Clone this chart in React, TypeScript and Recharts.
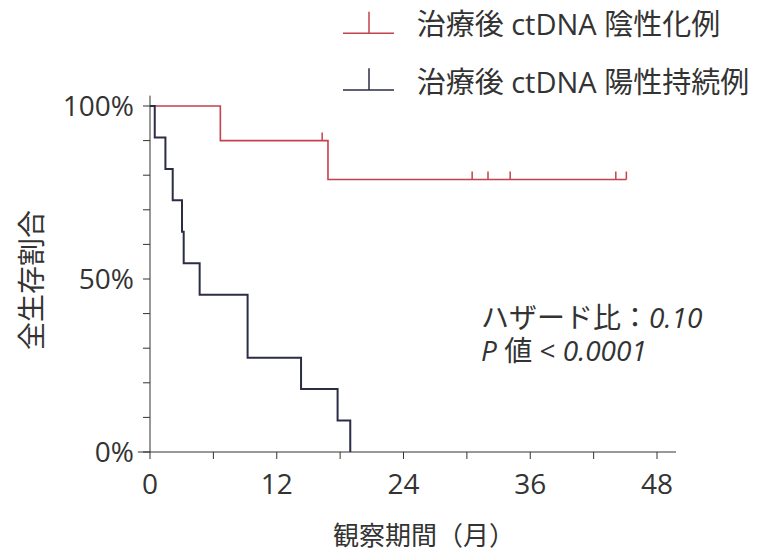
import { ComposedChart, Line, XAxis, YAxis, ReferenceLine } from "recharts";

// 治療後 ctDNA 陰性化例 (n=10)
const negTime = [0, 6.66, 16.3, 16.85, 30.5, 32.0, 34.1, 44.1, 45.1];
const negSurv = [100, 90, 90, 78.75, 78.75, 78.75, 78.75, 78.75, 78.75];
const negCensored = [false, false, true, false, true, true, true, true, true];

// 治療後 ctDNA 陽性持続例 (n=11)
const posTime = [0, 0.45, 1.46, 2.15, 3.03, 3.19, 4.7, 9.24, 14.3, 17.76, 18.96];
const posSurv = [100, 90.91, 81.82, 72.73, 63.64, 54.55, 45.45, 27.27, 18.18, 9.09, 0];

const xTicks = [0, 6, 12, 18, 24, 30, 36, 42, 48];
const xLabels = [0, 12, 24, 36, 48];
const yTicks = [0, 10, 20, 30, 40, 50, 60, 70, 80, 90, 100];
const yLabels = [0, 50, 100];

const RED = "#c4424e";
const NAVY = "#2b2d45";
const INK = "#333333";
const FONT = "'Open Sans', 'Noto Sans CJK JP', sans-serif";

const negData = negTime.map((t, i) => ({ t, s: negSurv[i], c: negCensored[i] }));
const posData = posTime.map((t, i) => ({ t, s: posSurv[i], c: false }));

const censorDot = (color: string) => (props: any) => {
  const { cx, cy, payload, index } = props;
  if (!payload || !payload.c) return <g key={`d-${index}`} />;
  return (
    <line key={`d-${index}`} x1={cx} x2={cx} y1={cy} y2={cy - 8} stroke={color} strokeWidth={1.5} />
  );
};

// legend drawn as an overlay so it doesn't eat plot space
const LegendBox = () => (
  <svg width={420} height={100} style={{ position: "absolute", left: 330, top: 0, overflow: "visible" }}>
    <line x1={5} x2={56} y1={25.3} y2={25.3} stroke={RED} strokeWidth={1.5} />
    <line x1={31} x2={31} y1={3.7} y2={25.3} stroke={RED} strokeWidth={1.5} />
    <text x={78.7} y={15} dominantBaseline="central" fontSize={29} fill={INK} fontFamily={FONT}>
      治療後 ctDNA 陰性化例
    </text>
    <line x1={5} x2={56} y1={82} y2={82} stroke={NAVY} strokeWidth={1.5} />
    <line x1={31} x2={31} y1={60.3} y2={82} stroke={NAVY} strokeWidth={1.5} />
    <text x={78.7} y={73} dominantBaseline="central" fontSize={29} fill={INK} fontFamily={FONT}>
      治療後 ctDNA 陽性持続例
    </text>
  </svg>
);

export default function App() {
  return (
    <div style={{ position: "relative", width: 750, height: 550, fontFamily: FONT, color: INK }}>
      <ComposedChart width={750} height={550} margin={{ top: 98, right: 101, bottom: 46, left: 0 }}>
        <XAxis
          dataKey="t"
          type="number"
          domain={[0, 48]}
          ticks={xTicks}
          tickFormatter={(v: number) => (xLabels.includes(v) ? String(v) : "")}
          height={60}
          tickSize={7}
          tickMargin={15}
          stroke={INK}
          tick={{ fontSize: 28, fill: INK, fontFamily: FONT }}
        />
        <YAxis
          type="number"
          domain={[0, 100]}
          ticks={yTicks}
          tickFormatter={(v: number) => (yLabels.includes(v) ? `${v}%` : "")}
          width={142}
          tickSize={7}
          tickMargin={9}
          stroke={INK}
          tick={{ fontSize: 28, fill: INK, fontFamily: FONT }}
        />
        <ReferenceLine segment={[{ x: -1.15, y: 0 }, { x: 0, y: 0 }]} ifOverflow="visible" stroke={INK} />
        <ReferenceLine segment={[{ x: 48, y: 0 }, { x: 49.8, y: 0 }]} ifOverflow="visible" stroke={INK} />
        <ReferenceLine segment={[{ x: 0, y: 100 }, { x: 0, y: 103 }]} ifOverflow="visible" stroke={INK} />
        <Line
          data={negData}
          dataKey="s"
          type="stepAfter"
          stroke={RED}
          strokeWidth={1.6}
          dot={censorDot(RED)}
          activeDot={false}
          isAnimationActive={false}
        />
        <Line
          data={posData}
          dataKey="s"
          type="stepAfter"
          stroke={NAVY}
          strokeWidth={2}
          dot={false}
          activeDot={false}
          isAnimationActive={false}
        />
      </ComposedChart>
      <LegendBox />
      <div
        style={{
          position: "absolute",
          left: 23,
          top: 272,
          transform: "translate(-50%, -50%) rotate(-90deg)",
          whiteSpace: "nowrap",
          fontSize: 28,
          lineHeight: "28px",
        }}
      >
        全生存割合
      </div>
      <div style={{ position: "absolute", left: 325, top: 514, whiteSpace: "nowrap", fontSize: 26, lineHeight: "26px" }}>
        観察期間（月）
      </div>
      <div style={{ position: "absolute", left: 473, top: 296, whiteSpace: "nowrap", fontSize: 28, lineHeight: "26px" }}>
        ハザード比：<span style={{ fontStyle: "italic" }}>0.10</span>
      </div>
      <div style={{ position: "absolute", left: 473, top: 329, whiteSpace: "nowrap", fontSize: 28, lineHeight: "26px" }}>
        <span style={{ fontStyle: "italic" }}>P</span> 値 &lt; <span style={{ fontStyle: "italic" }}>0.0001</span>
      </div>
    </div>
  );
}
